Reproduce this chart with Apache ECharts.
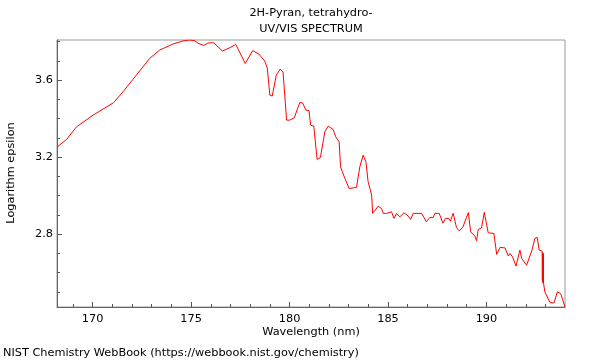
<!DOCTYPE html>
<html>
<head>
<meta charset="utf-8">
<style>html,body{margin:0;padding:0;background:#fff;}#c{width:600px;height:360px;}</style>
<script src="https://cdn.jsdelivr.net/npm/echarts@6/dist/echarts.min.js"></script>
</head>
<body>
<div id="c"></div>
<script>
const wavelength = [168.19,168.67,169.18,170.02,171.07,171.54,172.05,172.9,173.41,174.08,174.59,174.93,175.19,175.35,175.64,175.85,176.15,176.59,176.97,177.27,177.75,178.13,178.44,178.74,178.87,179.0,179.12,179.33,179.53,179.67,179.85,180.01,180.24,180.52,180.66,180.83,180.99,181.07,181.23,181.4,181.57,181.79,181.96,182.21,182.35,182.52,182.59,182.81,183.03,183.4,183.57,183.74,183.88,183.99,184.17,184.22,184.5,184.67,184.76,184.93,185.18,185.3,185.44,185.6,185.81,186.03,186.15,186.28,186.71,186.95,187.13,187.3,187.38,187.6,187.79,187.92,188.09,188.17,188.31,188.4,188.48,188.62,188.81,188.99,189.08,189.2,189.41,189.5,189.58,189.75,189.89,190.09,190.38,190.52,190.69,190.94,191.11,191.19,191.33,191.5,191.7,191.79,192.04,192.3,192.46,192.58,192.68,192.83,192.84,192.85,192.86,192.87,192.88,192.89,192.9,192.92,192.97,193.23,193.43,193.6,193.77,193.99];
const logEpsilon = [3.252,3.291,3.357,3.418,3.483,3.539,3.604,3.713,3.756,3.787,3.803,3.808,3.804,3.791,3.78,3.792,3.794,3.751,3.768,3.785,3.686,3.753,3.735,3.699,3.662,3.522,3.517,3.626,3.657,3.642,3.392,3.392,3.404,3.483,3.482,3.444,3.441,3.366,3.361,3.188,3.198,3.331,3.361,3.344,3.305,3.279,3.15,3.089,3.037,3.043,3.15,3.21,3.176,3.072,3.003,2.908,2.945,2.933,2.908,2.908,2.916,2.882,2.908,2.89,2.911,2.894,2.876,2.908,2.908,2.864,2.887,2.887,2.908,2.908,2.857,2.882,2.882,2.867,2.909,2.917,2.834,2.817,2.838,2.888,2.912,2.812,2.79,2.765,2.824,2.833,2.913,2.807,2.804,2.695,2.731,2.729,2.687,2.7,2.682,2.634,2.717,2.674,2.639,2.713,2.778,2.783,2.717,2.712,2.56,2.705,2.55,2.695,2.545,2.70,2.545,2.535,2.5,2.445,2.443,2.5,2.492,2.422];
const xMajorTicks = [170,175,180,185,190];
const xMinorTicks = [169,170,171,172,173,174,175,176,177,178,179,180,181,182,183,184,185,186,187,188,189,190,191,192,193];
const yMajorTicks = [2.8,3.2,3.6];
const yMinorTicks = [2.5,2.6,2.7,2.8,2.9,3.0,3.1,3.2,3.3,3.4,3.5,3.6,3.7,3.8];

const FONT = 'DejaVu Sans';
const FS = 11.3;
const FONTSTR = FS + 'px "DejaVu Sans"';
const X_MIN = 168.19, X_MAX = 193.99, Y_MIN = 2.422, Y_MAX = 3.808;
const chart = echarts.init(document.getElementById('c'), null, {renderer:'canvas'});
const axisLineStyle = {color:'#666', width:1};
chart.setOption({
  animation:false,
  grid:{left:57, right:35, top:40, bottom:53, show:true, borderColor:'#999', borderWidth:1, backgroundColor:'transparent'},
  graphic:[
    {type:'text', x:311, y:13, style:{text:'2H-Pyran, tetrahydro-', font:FONTSTR, fill:'#000', align:'center', verticalAlign:'middle'}},
    {type:'text', x:311, y:29, style:{text:'UV/VIS SPECTRUM', font:FONTSTR, fill:'#000', align:'center', verticalAlign:'middle'}},
    {type:'text', x:311, y:332, style:{text:'Wavelength (nm)', font:FONTSTR, fill:'#000', align:'center', verticalAlign:'middle'}},
    {type:'text', x:11, y:173, rotation:Math.PI/2, style:{text:'Logarithm epsilon', font:FONTSTR, fill:'#000', align:'center', verticalAlign:'middle'}},
    {type:'text', x:3, y:353, style:{text:'NIST Chemistry WebBook (https://webbook.nist.gov/chemistry)', font:FONTSTR, fill:'#000', align:'left', verticalAlign:'middle'}}
  ],
  xAxis:[
    {type:'value', min:X_MIN, max:X_MAX, position:'bottom',
     axisLine:{show:true, lineStyle:axisLineStyle},
     axisTick:{show:true, inside:true, length:5, customValues:xMajorTicks, lineStyle:{color:'#555'}},
     axisLabel:{show:true, customValues:xMajorTicks, margin:7, fontFamily:FONT, fontSize:FS, color:'#000'},
     splitLine:{show:false}},
    {type:'value', min:X_MIN, max:X_MAX, position:'bottom',
     axisLine:{show:false},
     axisTick:{show:true, inside:true, length:3, customValues:xMinorTicks, lineStyle:{color:'#555'}},
     axisLabel:{show:false},
     splitLine:{show:false}}
  ],
  yAxis:[
    {type:'value', min:Y_MIN, max:Y_MAX, position:'left',
     axisLine:{show:true, lineStyle:axisLineStyle},
     axisTick:{show:true, inside:true, length:5, customValues:yMajorTicks, lineStyle:{color:'#555'}},
     axisLabel:{show:true, customValues:yMajorTicks, margin:4, fontFamily:FONT, fontSize:FS, color:'#000', formatter:v=>v.toFixed(1)},
     splitLine:{show:false}},
    {type:'value', min:Y_MIN, max:Y_MAX, position:'left',
     axisLine:{show:false},
     axisTick:{show:true, inside:true, length:3, customValues:yMinorTicks, lineStyle:{color:'#555'}},
     axisLabel:{show:false},
     splitLine:{show:false}}
  ],
  series:[{
    type:'line', xAxisIndex:0, yAxisIndex:0,
    data: wavelength.map((w,i)=>[w, logEpsilon[i]]),
    showSymbol:false, symbol:'none',
    lineStyle:{color:'#ff0000', width:1},
    clip:true
  }]
});
</script>
</body>
</html>
